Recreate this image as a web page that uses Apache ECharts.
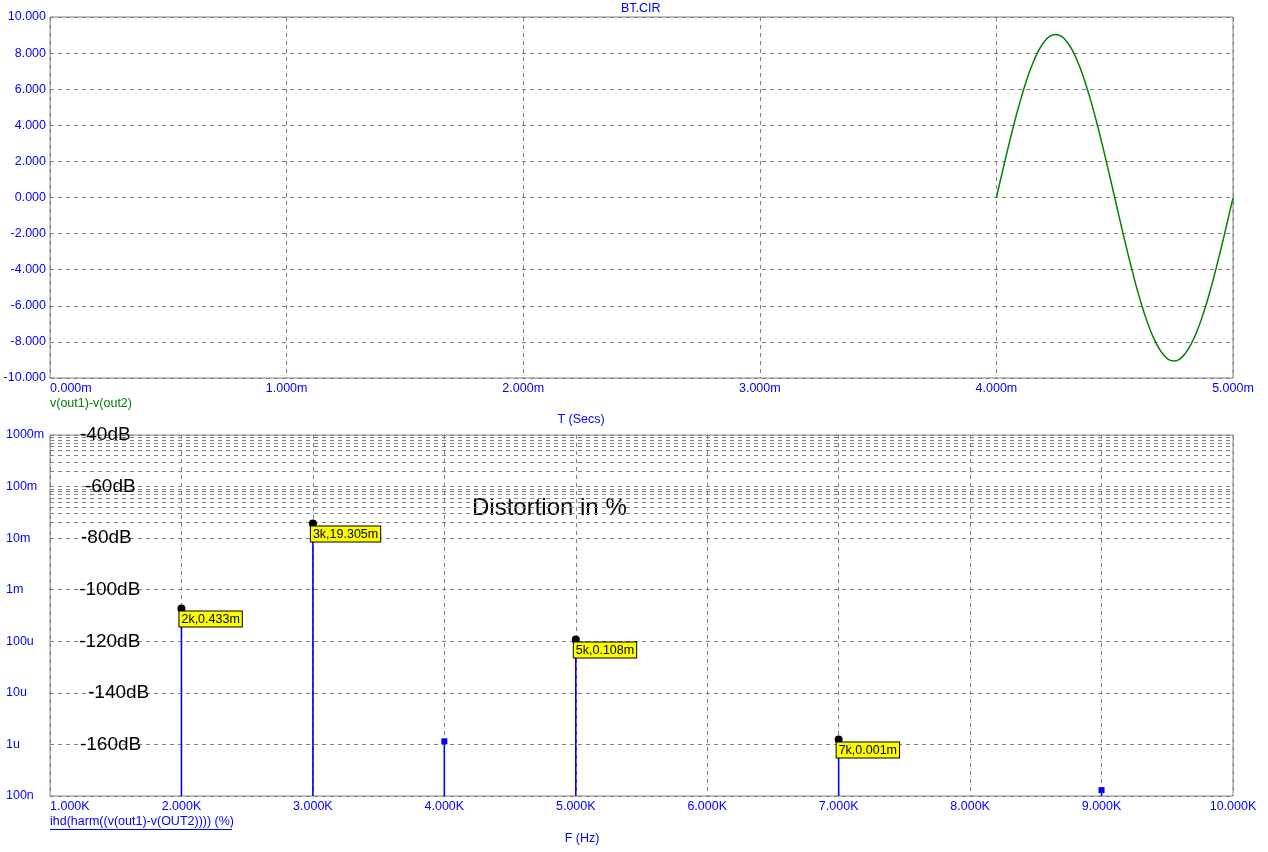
<!DOCTYPE html>
<html>
<head>
<meta charset="utf-8">
<script src="https://cdn.jsdelivr.net/npm/echarts@6/dist/echarts.min.js"></script>
<style>html,body{margin:0;padding:0;background:#fff}#c{width:1268px;height:852px}</style>
</head>
<body>
<div id="c"></div>
<script>
// ---------- DATA ----------
const chartTitle = 'BT.CIR';
const topXName = 'T (Secs)';
const bottomXName = 'F (Hz)';
const topSeriesName = 'v(out1)-v(out2)';
const bottomSeriesName = 'ihd(harm((v(out1)-v(OUT2)))) (%)';
const annotation = 'Distortion in %';

// time in ms
const sineT = [4.000,4.025,4.050,4.075,4.100,4.125,4.150,4.175,4.200,4.225,4.250,4.275,4.300,4.325,4.350,4.375,4.400,4.425,4.450,4.475,4.500,
               4.525,4.550,4.575,4.600,4.625,4.650,4.675,4.700,4.725,4.750,4.775,4.800,4.825,4.850,4.875,4.900,4.925,4.950,4.975,5.000];
const sineV = [0.00,1.41,2.79,4.10,5.31,6.39,7.31,8.05,8.59,8.92,9.03,8.92,8.59,8.05,7.31,6.39,5.31,4.10,2.79,1.41,0.00,
               -1.42,-2.80,-4.11,-5.33,-6.41,-7.33,-8.07,-8.61,-8.95,-9.06,-8.95,-8.61,-8.07,-7.33,-6.41,-5.33,-4.11,-2.80,-1.42,-0.02];

// harmonics (kHz) and distortion (%)
const harmF = [2, 3, 4, 5, 7, 9];
const harmV = [0.433e-3, 19.305e-3, 1.15e-6, 0.108e-3, 1.25e-6, 1.3e-7];
const harmLabels = ['2k,0.433m', '3k,19.305m', '', '5k,0.108m', '7k,0.001m', ''];

// log axis tick labels, from 1e-7 to 1
const logTickLabels = ['100n','1u','10u','100u','1m','10m','100m','1000m'];

// dB annotations at decades
const dbLabels = ['-40dB','-60dB','-80dB','-100dB','-120dB','-140dB','-160dB'];
const dbValues = [1, 0.1, 0.01, 1e-3, 1e-4, 1e-5, 1e-6];
const dbX = [1.228, 1.266, 1.236, 1.221, 1.221, 1.289, 1.228];

// ---------- CHART ----------
const BLUE = '#0000ff';
const GRAY = '#808080';
const FONT = 'Liberation Sans, Arial, sans-serif';
const FS = 12.5;

const minorGrid = [];
for (let e = -7; e < 0; e++) {
  for (let m = 2; m <= 9; m++) minorGrid.push({ yAxis: m * Math.pow(10, e) });
}

const dotData = [];
const squareData = [];
harmF.forEach((f, i) => {
  if (harmLabels[i]) dotData.push({ value: [f, harmV[i]], lab: harmLabels[i] });
  else squareData.push([f, harmV[i]]);
});

const chart = echarts.init(document.getElementById('c'), null, { renderer: 'canvas' });
const dashed = { color: GRAY, type: [4, 4], width: 1 };

chart.setOption({
  animation: false,
  backgroundColor: '#fff',
  textStyle: { fontFamily: FONT },
  grid: [
    { left: 50, right: 35, top: 17, height: 361, show: true, borderColor: GRAY, borderWidth: 1 },
    { left: 50, right: 35, top: 435, height: 361, show: true, borderColor: GRAY, borderWidth: 1 }
  ],
  xAxis: [
    { type: 'value', gridIndex: 0, min: 0, max: 5, interval: 1,
      axisLine: { show: false }, axisTick: { show: false },
      splitLine: { show: true, lineStyle: dashed },
      axisLabel: { color: BLUE, fontSize: FS, fontFamily: FONT, margin: 4, alignMinLabel: 'left',
        formatter: v => v.toFixed(3) + 'm' } },
    { type: 'value', gridIndex: 1, min: 1, max: 10, interval: 1,
      axisLine: { show: false }, axisTick: { show: false },
      splitLine: { show: true, lineStyle: dashed },
      axisLabel: { color: BLUE, fontSize: FS, fontFamily: FONT, margin: 4, alignMinLabel: 'left',
        formatter: v => v.toFixed(3) + 'K' } }
  ],
  yAxis: [
    { type: 'value', gridIndex: 0, min: -10, max: 10, interval: 2,
      axisLine: { show: false }, axisTick: { show: false },
      splitLine: { show: true, lineStyle: dashed },
      axisLabel: { color: BLUE, fontSize: FS, fontFamily: FONT, margin: 4,
        formatter: v => v.toFixed(3) } },
    { type: 'log', gridIndex: 1, logBase: 10, min: 1e-7, max: 1,
      axisLine: { show: false }, axisTick: { show: false },
      splitLine: { show: true, lineStyle: dashed },
      axisLabel: { color: BLUE, fontSize: FS, fontFamily: FONT, margin: 44, align: 'left',
        formatter: v => logTickLabels[Math.round(Math.log10(v)) + 7] } }
  ],
  series: [
    { type: 'line', xAxisIndex: 0, yAxisIndex: 0, data: sineT.map((t, i) => [t, sineV[i]]),
      showSymbol: false, smooth: true, lineStyle: { color: '#008000', width: 1.5 }, silent: true },
    // minor log grid lines
    { type: 'line', xAxisIndex: 1, yAxisIndex: 1, data: [], silent: true,
      markLine: { silent: true, symbol: 'none', label: { show: false },
        lineStyle: { color: GRAY, type: [4, 4], width: 1 }, data: minorGrid } },
    // stems
    { type: 'custom', xAxisIndex: 1, yAxisIndex: 1, silent: true, z: 4,
      data: harmF.map((f, i) => [f, harmV[i]]),
      renderItem: (params, api) => {
        const top = api.coord([api.value(0), api.value(1)]);
        const bot = api.coord([api.value(0), 1e-7]);
        const x = top[0];
        return { type: 'line', shape: { x1: x, y1: top[1], x2: x, y2: bot[1] },
          style: { stroke: BLUE, lineWidth: 1.6 } };
      } },
    // blue square markers
    { type: 'scatter', xAxisIndex: 1, yAxisIndex: 1, data: squareData, symbol: 'rect', symbolSize: 6,
      itemStyle: { color: BLUE, opacity: 1 }, silent: true, z: 5 },
    // black dots with yellow labels
    { type: 'scatter', xAxisIndex: 1, yAxisIndex: 1, data: dotData, symbol: 'circle', symbolSize: 8,
      itemStyle: { color: '#000', opacity: 1 }, silent: true, z: 5,
      label: { show: true, position: [2, 7], formatter: p => p.data.lab,
        color: '#000', fontSize: FS, fontFamily: FONT, backgroundColor: '#ffff00',
        borderColor: '#000', borderWidth: 1, padding: [1, 2, 0, 2], lineHeight: 14 } },
    // dB annotations
    { type: 'scatter', xAxisIndex: 1, yAxisIndex: 1, symbolSize: 0, silent: true, z: 6,
      itemStyle: { opacity: 1 },
      data: dbLabels.map((l, i) => ({ value: [dbX[i], dbValues[i]], lab: l })),
      label: { show: true, position: 'right', distance: 0, formatter: p => p.data.lab,
        color: '#000', fontSize: 19, fontFamily: FONT, align: 'left', verticalAlign: 'middle' } }
  ],
  graphic: [
    { type: 'text', left: 641 - 20, top: 2, style: { text: chartTitle, fill: BLUE, font: FS + 'px ' + FONT } },
    { type: 'text', x: 581, y: 420, style: { text: topXName, fill: BLUE, font: FS + 'px ' + FONT, align: 'center', verticalAlign: 'middle' } },
    { type: 'text', x: 582, y: 839, style: { text: bottomXName, fill: BLUE, font: FS + 'px ' + FONT, align: 'center', verticalAlign: 'middle' } },
    { type: 'text', x: 50, y: 404, style: { text: topSeriesName, fill: '#008000', font: FS + 'px ' + FONT, align: 'left', verticalAlign: 'middle' } },
    { type: 'text', x: 50, y: 822, style: { text: bottomSeriesName, fill: BLUE, font: FS + 'px ' + FONT, align: 'left', verticalAlign: 'middle' } },
    { type: 'line', shape: { x1: 50, y1: 829.5, x2: 232, y2: 829.5 }, style: { stroke: BLUE, lineWidth: 1 } },
    { type: 'text', x: 472, y: 508, style: { text: annotation, fill: '#000', font: '24px ' + FONT, align: 'left', verticalAlign: 'middle' } }
  ]
});
</script>
</body>
</html>
